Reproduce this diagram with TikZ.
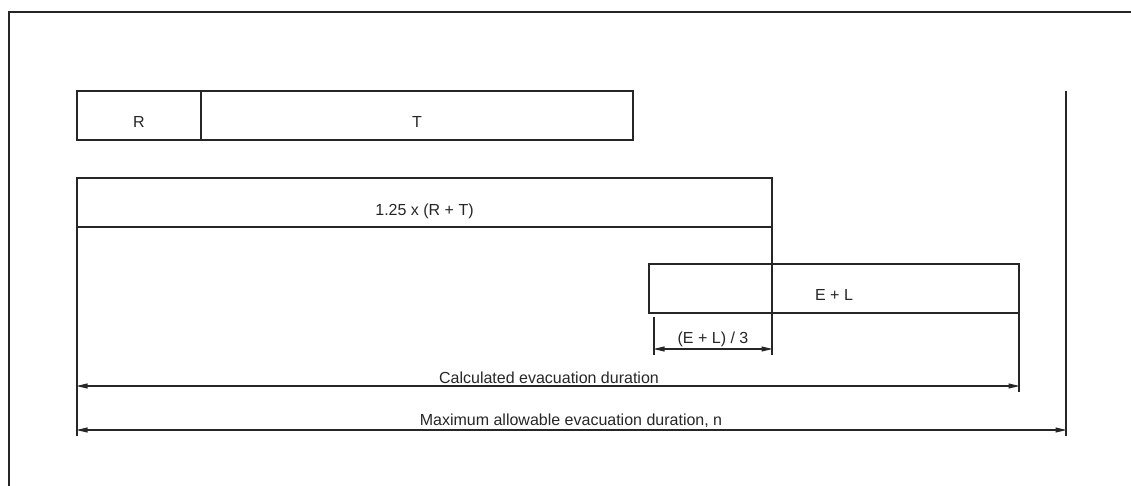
\documentclass[tikz,border=0pt]{standalone}
\usepackage{fontspec}
\setmainfont{Liberation Sans}
\usetikzlibrary{arrows.meta}
\begin{document}
\begin{tikzpicture}[x=1pt,y=-1pt,
  line/.style={draw=black!85,line width=1.1pt},
  box/.style={line, rectangle, inner sep=0pt, outer sep=0pt},
  lbl/.style={anchor=base, inner sep=0pt, font=\fontsize{16}{19}\selectfont, text=black!85},
  dim/.style={line, {Triangle[length=11pt,width=5pt]}-{Triangle[length=11pt,width=5pt]}, shorten <=-0.5pt, shorten >=-0.5pt}]
\useasboundingbox (0,0) rectangle (1131,486);
% frame
\draw[line] (9,486) -- (9,12) -- (1131,12);
% boxes
\node[box, minimum width=124pt, minimum height=49pt] (R) at (139,115.5) {};
\node[box, minimum width=432pt, minimum height=49pt] (T) at (417,115.5) {};
\node[box, minimum width=695pt, minimum height=49pt] (RT) at (424.5,202.5) {};
\node[box, minimum width=370pt, minimum height=49pt] (EL) at (834,288.5) {};
% labels
\node[lbl] (lR) at (139,128) {R};
\node[lbl] (lT) at (417,128) {T};
\node[lbl] (lRT) at (424.5,215) {1.25 x (R + T)};
\node[lbl] (lEL) at (834,300) {E + L};
\node[lbl] (lEL3) at (713,343) {(E + L) / 3};
\node[lbl] (lCalc) at (549,383) {Calculated evacuation duration};
\node[lbl] (lMax) at (571,425) {Maximum allowable evacuation duration, n};
% extension line ends
\coordinate (e1) at (77,436);
\coordinate (e2) at (772,355);
\coordinate (e3a) at (654,317);
\coordinate (e3b) at (654,355);
\coordinate (e4) at (1019,392);
\coordinate (e5a) at (1066,91);
\coordinate (e5b) at (1066,436);
\draw[line] (RT.south west) -- (e1);
\draw[line] (RT.south east) -- (e2);
\draw[line] (e3a) -- (e3b);
\draw[line] (EL.south east) -- (e4);
\draw[line] (e5a) -- (e5b);
% dimension arrows
\coordinate (d1a) at (654,349);
\coordinate (d1b) at (772,349);
\coordinate (d2a) at (77,386);
\coordinate (d2b) at (1019,386);
\coordinate (d3a) at (77,430);
\coordinate (d3b) at (1066,430);
\draw[dim] (d1a) -- (d1b);
\draw[dim] (d2a) -- (d2b);
\draw[dim] (d3a) -- (d3b);
\end{tikzpicture}
\end{document}
